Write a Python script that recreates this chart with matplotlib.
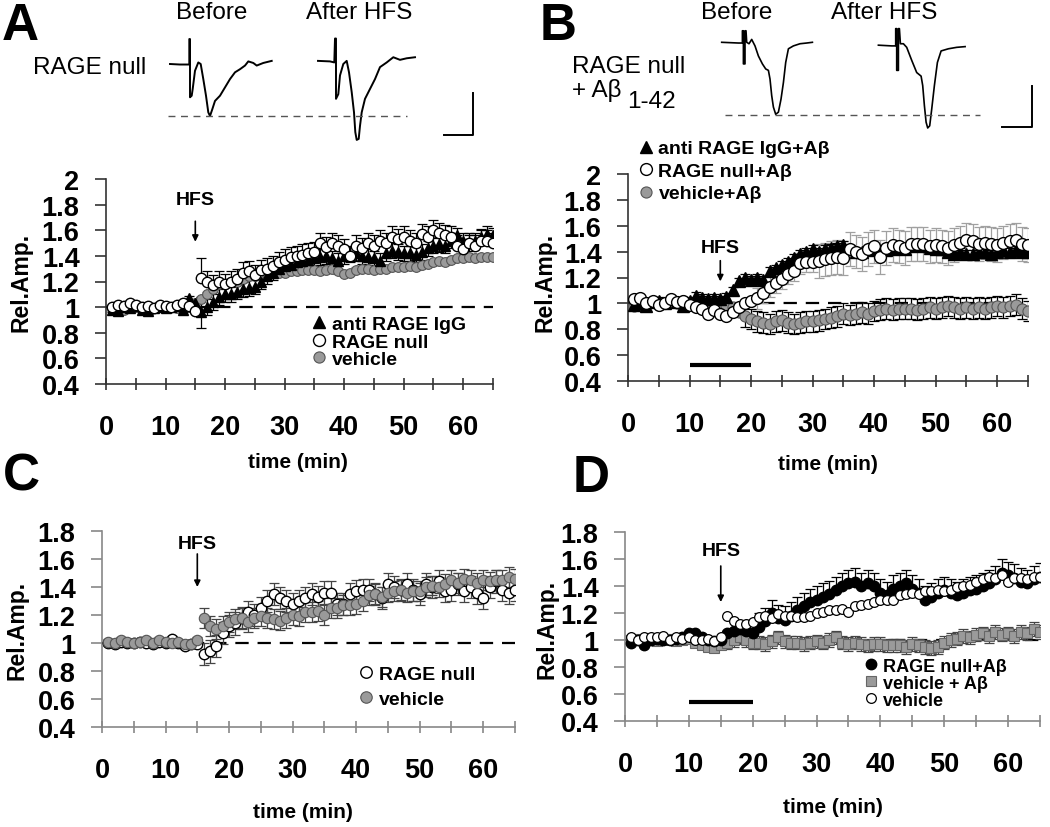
import numpy as np
import matplotlib
matplotlib.use('Agg')
import matplotlib.pyplot as plt

plt.rcParams['font.family'] = ['Liberation Sans', 'DejaVu Sans']

# time points (min)
t = np.arange(1, 66)

# ---- panel A ----
a_igg = [0.98, 0.97, 1.00, 0.99, 1.01, 0.98, 0.97, 0.99, 1.00, 0.99,
         1.00, 1.01, 0.98, 1.07, 1.03, 0.96, 1.00, 1.04, 1.08, 1.10,
         1.10, 1.12, 1.14, 1.15, 1.16, 1.20, 1.24, 1.27, 1.30, 1.32,
         1.33, 1.35, 1.36, 1.37, 1.38, 1.39, 1.40, 1.38, 1.36, 1.40,
         1.41, 1.42, 1.40, 1.39, 1.38, 1.36, 1.42, 1.44, 1.43, 1.42,
         1.42, 1.41, 1.43, 1.46, 1.48, 1.49, 1.48, 1.52, 1.56, 1.52,
         1.50, 1.52, 1.55, 1.57, 1.56]
a_igg_err = [0.02] * 15 + [0.12] + [0.06] * 49
a_null = [1.00, 1.02, 1.01, 1.03, 1.02, 1.00, 1.01, 0.99, 1.02, 1.01,
          1.00, 1.02, 1.03, 1.01, 0.97, 1.23, 1.20, 1.17, 1.20, 1.18,
          1.20, 1.22, 1.27, 1.28, 1.25, 1.29, 1.30, 1.32, 1.35, 1.37,
          1.39, 1.40, 1.41, 1.42, 1.43, 1.50, 1.47, 1.50, 1.48, 1.45,
          1.40, 1.48, 1.46, 1.50, 1.48, 1.52, 1.50, 1.55, 1.53, 1.55,
          1.52, 1.50, 1.57, 1.55, 1.60, 1.58, 1.56, 1.55, 1.48, 1.45,
          1.50, 1.48, 1.52, 1.52, 1.50]
a_null_err = [0.02] * 15 + [0.15] + [0.08] * 49
a_veh = [0.99, 1.00, 0.98, 1.01, 1.00, 0.99, 0.98, 0.99, 1.00, 1.01,
         1.00, 0.99, 1.01, 1.00, 1.03, 1.06, 1.10, 1.14, 1.18, 1.18,
         1.20, 1.20, 1.22, 1.24, 1.24, 1.25, 1.26, 1.27, 1.27, 1.27,
         1.28, 1.28, 1.29, 1.29, 1.29, 1.28, 1.29, 1.30, 1.28, 1.26,
         1.27, 1.29, 1.30, 1.30, 1.29, 1.30, 1.30, 1.31, 1.31, 1.31,
         1.32, 1.31, 1.33, 1.34, 1.35, 1.36, 1.35, 1.37, 1.38, 1.38,
         1.39, 1.38, 1.39, 1.39, 1.39]
a_veh_err = [0.02] * 65

# ---- panel B ----
b_igg = [0.99, 1.00, 0.98, 1.01, 1.02, 1.00, 1.03, 1.01, 0.98, 1.02,
         1.06, 1.04, 1.03, 1.04, 1.03, 1.05, 1.10, 1.17, 1.20, 1.18,
         1.20, 1.18, 1.25, 1.27, 1.30, 1.32, 1.35, 1.38, 1.40, 1.42,
         1.40, 1.42, 1.43, 1.44, 1.45, 1.42, 1.40, 1.40, 1.41, 1.42,
         1.40, 1.41, 1.42, 1.43, 1.42, 1.44, 1.45, 1.44, 1.43, 1.42,
         1.42, 1.40, 1.38, 1.40, 1.38, 1.38, 1.40, 1.40, 1.38, 1.40,
         1.41, 1.40, 1.41, 1.40, 1.40]
b_igg_err = [0.03] * 65
b_null = [1.03, 1.04, 1.00, 1.02, 0.99, 1.00, 1.03, 1.01, 1.02, 0.99,
          0.97, 0.96, 0.92, 0.95, 0.92, 0.90, 0.93, 0.97, 1.00, 1.02,
          1.04, 1.08, 1.13, 1.16, 1.19, 1.23, 1.25, 1.31, 1.32, 1.32,
          1.33, 1.34, 1.35, 1.36, 1.35, 1.42, 1.40, 1.38, 1.42, 1.44,
          1.36, 1.43, 1.45, 1.44, 1.43, 1.46, 1.46, 1.46, 1.44, 1.45,
          1.44, 1.43, 1.45, 1.47, 1.49, 1.48, 1.46, 1.47, 1.46, 1.45,
          1.47, 1.48, 1.49, 1.46, 1.45]
b_null_err = [0.02] * 20 + [0.08] * 10 + [0.13] * 35
b_veh = [0.98, 0.99, 1.00, 1.01, 0.99, 1.00, 1.01, 1.00, 1.02, 1.00,
         0.98, 0.97, 0.96, 0.97, 0.98, 0.99, 0.97, 0.93, 0.90, 0.88,
         0.86, 0.85, 0.84, 0.86, 0.87, 0.85, 0.84, 0.85, 0.86, 0.86,
         0.87, 0.88, 0.89, 0.90, 0.92, 0.91, 0.92, 0.93, 0.92, 0.94,
         0.95, 0.96, 0.95, 0.96, 0.96, 0.96, 0.95, 0.96, 0.97, 0.96,
         0.97, 0.98, 0.97, 0.96, 0.97, 0.96, 0.97, 0.96, 0.97, 0.98,
         0.97, 0.98, 0.99, 0.96, 0.94]
b_veh_err = [0.02] * 18 + [0.08] * 47

# ---- panel C ----
c_null = [1.00, 0.99, 1.01, 1.00, 1.00, 1.01, 1.00, 0.99, 1.01, 1.00,
          1.03, 1.00, 0.98, 0.99, 0.99, 0.92, 0.94, 0.98, 1.07, 1.12,
          1.14, 1.18, 1.22, 1.20, 1.25, 1.30, 1.35, 1.32, 1.30, 1.28,
          1.30, 1.32, 1.35, 1.33, 1.36, 1.36, 1.28, 1.28, 1.35, 1.37,
          1.38, 1.38, 1.35, 1.32, 1.42, 1.40, 1.38, 1.42, 1.38, 1.35,
          1.42, 1.40, 1.44, 1.37, 1.38, 1.42, 1.37, 1.40, 1.36, 1.32,
          1.40, 1.44, 1.38, 1.36, 1.38]
c_null_err = [0.02] * 15 + [0.08] * 50
c_veh = [1.01, 1.00, 1.02, 1.01, 1.00, 1.01, 1.02, 1.00, 1.02, 1.01,
         1.00, 1.01, 0.99, 0.99, 1.02, 1.18, 1.12, 1.10, 1.12, 1.15,
         1.17, 1.18, 1.15, 1.18, 1.19, 1.18, 1.17, 1.16, 1.18, 1.20,
         1.19, 1.22, 1.22, 1.23, 1.20, 1.25, 1.25, 1.27, 1.27, 1.28,
         1.30, 1.34, 1.35, 1.33, 1.36, 1.37, 1.38, 1.36, 1.37, 1.37,
         1.40, 1.41, 1.40, 1.42, 1.45, 1.43, 1.46, 1.45, 1.43, 1.45,
         1.44, 1.45, 1.45, 1.47, 1.46]
c_veh_err = [0.02] * 15 + [0.07] * 50

# ---- panel D ----
d_null = [0.98, 1.00, 0.96, 1.00, 1.01, 1.00, 1.00, 1.01, 1.02, 1.05,
          1.05, 1.02, 1.00, 0.99, 1.00, 1.05, 1.07, 1.08, 1.07, 1.05,
          1.10, 1.14, 1.20, 1.16, 1.15, 1.18, 1.22, 1.25, 1.28, 1.30,
          1.32, 1.34, 1.37, 1.40, 1.42, 1.43, 1.40, 1.42, 1.40, 1.35,
          1.33, 1.38, 1.40, 1.42, 1.38, 1.35, 1.30, 1.32, 1.35, 1.37,
          1.35, 1.33, 1.35, 1.37, 1.38, 1.40, 1.42, 1.45, 1.50, 1.48,
          1.46, 1.43, 1.42, 1.45, 1.47]
d_null_err = [0.02] * 20 + [0.10] * 45
d_vab = [1.00, 1.01, 1.00, 1.00, 0.99, 1.00, 1.01, 0.99, 1.00, 1.01,
         0.98, 0.96, 0.95, 0.94, 0.96, 0.98, 1.00, 1.02, 1.00, 0.98,
         0.98, 0.97, 0.99, 1.02, 0.99, 0.98, 0.98, 0.97, 0.98, 0.99,
         0.98, 1.00, 1.02, 0.98, 0.97, 0.98, 0.97, 0.96, 0.97, 0.97,
         0.96, 0.96, 0.96, 0.95, 0.97, 0.96, 0.95, 0.94, 0.95, 0.98,
         1.00, 1.01, 1.03, 1.02, 1.04, 1.05, 1.03, 1.06, 1.04, 1.05,
         1.03, 1.06, 1.05, 1.08, 1.06]
d_vab_err = [0.02] * 15 + [0.05] * 50
d_veh = [1.02, 1.00, 1.02, 1.02, 1.02, 1.03, 1.00, 1.02, 1.01, 1.02,
         1.00, 1.00, 1.01, 0.99, 1.02, 1.18, 1.14, 1.12, 1.12, 1.13,
         1.17, 1.18, 1.16, 1.19, 1.18, 1.18, 1.17, 1.17, 1.18, 1.20,
         1.21, 1.22, 1.22, 1.23, 1.21, 1.25, 1.26, 1.27, 1.28, 1.30,
         1.30, 1.30, 1.33, 1.34, 1.35, 1.34, 1.36, 1.36, 1.37, 1.36,
         1.37, 1.39, 1.40, 1.41, 1.43, 1.45, 1.47, 1.46, 1.48, 1.43,
         1.46, 1.46, 1.45, 1.47, 1.47]

# drug application bar (min)
bar_t = [10, 20]

# ---- field potential traces (t in ms-ish units, amplitude rel. to "before" peak) ----
a_before_t = [0, 1.0, 1.67, 1.93, 1.93, 2.0, 2.0, 2.17, 2.27, 2.5, 2.83, 3.07, 3.33, 3.6, 3.83,
              4.0, 4.23, 4.5, 5.0, 5.5, 6.0, 6.5, 7.0, 7.5, 7.83, 8.33, 8.67, 9.33, 10.17]
a_before_v = [0, -0.01, -0.01, -0.01, 0.48, 0.48, -0.64, -0.61, -0.48, -0.13, 0.03, 0, -0.29, -0.61, -0.93,
              -1.0, -0.87, -0.71, -0.61, -0.45, -0.29, -0.16, -0.1, -0.03, 0.05, 0.02, -0.03, 0.02, 0.06]
a_after_t = [0, 1.2, 1.63, 1.7, 1.8, 1.8, 2.03, 2.2, 2.53, 2.87, 3.1, 3.37, 3.6, 3.73, 3.87, 4.07,
             4.2, 4.37, 4.7, 5.2, 5.7, 6.2, 6.87, 7.53, 8.2, 8.87, 9.7]
a_after_v = [0.06, 0.05, 0.03, 0.49, 0.49, -0.67, -0.58, -0.22, 0, 0.06, -0.16, -0.54, -0.93, -1.31, -1.46, -1.44,
             -1.19, -0.93, -0.67, -0.48, -0.29, -0.06, 0.03, 0.13, 0.08, 0.11, 0.13]
b_before_t = [0, 1.67, 2.07, 2.07, 2.17, 2.17, 2.33, 2.33, 2.43, 2.5, 2.73, 3.0, 3.33, 3.67, 4.07, 4.4,
              4.67, 4.83, 5.0, 5.17, 5.4, 5.67, 5.93, 6.17, 6.4, 6.67, 7.17, 7.83, 8.5, 9.07]
b_before_v = [0, -0.01, -0.01, 0.16, 0.16, -0.30, -0.30, 0.16, 0.16, 0, -0.02, 0.04, -0.05, -0.19, -0.30, -0.37,
              -0.39, -0.51, -0.74, -0.90, -1.0, -0.97, -0.79, -0.56, -0.28, -0.09, -0.05, -0.02, -0.01, 0]
b_after_t = [0, 1.33, 1.73, 1.73, 1.83, 1.83, 2.0, 2.0, 2.1, 2.2, 2.5, 2.83, 3.33, 3.83, 4.27, 4.43,
             4.6, 4.77, 4.93, 5.13, 5.33, 5.6, 5.9, 6.27, 7.0, 7.83, 8.67]
b_after_v = [-0.04, -0.05, -0.05, 0.19, 0.19, -0.39, -0.39, 0.19, 0.19, -0.02, -0.02, -0.07, -0.25, -0.42, -0.47, -0.60,
             -0.88, -1.11, -1.19, -1.16, -0.93, -0.60, -0.28, -0.12, -0.09, -0.07, -0.06]

GRAY = '#9a9a9a'
fig = plt.figure(figsize=(10.5, 8.28), dpi=100)


def px_rect(x0, y0, x1, y1):
    W, H = 1050, 828
    return [x0 / W, 1 - y1 / H, (x1 - x0) / W, (y1 - y0) / H]


def setup(ax, ylo, yhi, xlab, ylab, spcol):
    ax.set_xlim(0, 65)
    ax.set_ylim(ylo, yhi)
    for s in ['top', 'right']:
        ax.spines[s].set_visible(False)
    for s in ['left', 'bottom']:
        ax.spines[s].set_color(spcol)
        ax.spines[s].set_linewidth(1.2)
    ax.set_xticks(range(0, 61, 10))
    ax.set_xticks(range(5, 66, 10), minor=True)
    ax.tick_params(axis='x', which='both', direction='inout', length=9, width=1.2,
                   color=spcol, pad=17, labelsize=19.5)
    yt = np.round(np.arange(ylo, yhi + 0.001, 0.2), 1)
    ax.set_yticks(yt)
    ax.set_yticklabels(['%g' % v for v in yt])
    ax.tick_params(axis='y', direction='out', length=8, width=1.2, color=spcol, pad=11, labelsize=19.5)
    for lab in ax.get_xticklabels() + ax.get_yticklabels():
        lab.set_fontweight('bold')
    ax.axhline(1, ls=(0, (6, 4)), color='k', lw=1.6, zorder=1)
    ax.set_xlabel('time (min)', fontsize=15, fontweight='bold')
    ax.xaxis.set_label_coords(*xlab)
    ax.set_ylabel('Rel.Amp.', fontsize=16.5, fontweight='bold')
    ax.yaxis.set_label_coords(*ylab)


def hfs(ax, ytxt, y0, y1):
    ax.text(15, ytxt, 'HFS', ha='center', va='center', fontsize=14, fontweight='bold')
    ax.annotate('', xy=(15, y1), xytext=(15, y0),
                arrowprops=dict(arrowstyle='-|>', color='k', lw=1.2, mutation_scale=9, shrinkA=0, shrinkB=0))


def errs(ax, y, e, col, mode='both'):
    e = np.array(e)
    lo = e if mode in ('both', 'down') else np.zeros_like(e)
    hi = e if mode in ('both', 'up') else np.zeros_like(e)
    ax.errorbar(t, y, yerr=[lo, hi], fmt='none', ecolor=col, elinewidth=0.9, capsize=3.5, capthick=0.9, zorder=2)


leg_kw = dict(loc='upper left', frameon=False, handlelength=0.6, handletextpad=0.35,
              borderpad=0, borderaxespad=0)
leg_font = {'weight': 'bold', 'size': 14}

# ---------- A ----------
axA = fig.add_axes(px_rect(106, 180, 493, 385))
setup(axA, 0.4, 2.0, (0.496, -0.33), (-0.189, 0.5), '#333333')
errs(axA, a_veh, a_veh_err, '#777777')
errs(axA, a_igg, a_igg_err, 'k')
errs(axA, a_null, a_null_err, 'k', 'up')
axA.plot(t, a_veh, ls='none', marker='o', ms=7, mfc=GRAY, mec='#555555', mew=0.8, zorder=3, label='vehicle')
axA.plot(t, a_igg, ls='none', marker='^', ms=7.5, mfc='k', mec='k', zorder=4, label='anti RAGE IgG')
axA.plot(t, a_null, ls='none', marker='o', ms=7.5, mfc='white', mec='k', mew=1, zorder=5, label='RAGE null')
h, l = axA.get_legend_handles_labels()
axA.legend([h[1], h[2], h[0]], [l[1], l[2], l[0]], bbox_to_anchor=(0.535, 0.335), labelspacing=0.0,
           markerscale=1.15, prop=leg_font, **leg_kw)
hfs(axA, 1.84, 1.67, 1.51)

# ---------- B ----------
axB = fig.add_axes(px_rect(628, 175, 1028, 382))
setup(axB, 0.4, 2.0, (0.5, -0.353), (-0.178, 0.48), '#333333')
errs(axB, b_null, b_null_err, '#a0a0a0')
errs(axB, b_veh, b_veh_err, 'k')
errs(axB, b_igg, b_igg_err, 'k')
axB.plot(t, b_veh, ls='none', marker='o', ms=8, mfc=GRAY, mec='#555555', mew=0.8, zorder=3, label='vehicle+Aβ')
axB.plot(t, b_igg, ls='none', marker='^', ms=8, mfc='k', mec='k', zorder=4, label='anti RAGE IgG+Aβ')
axB.plot(t, b_null, ls='none', marker='o', ms=8.5, mfc='white', mec='k', mew=1, zorder=5, label='RAGE null+Aβ')
h, l = axB.get_legend_handles_labels()
lg = axB.legend([h[1], h[2], h[0]], [l[1], l[2], l[0]], bbox_to_anchor=(0.03, 1.165), labelspacing=0.25,
                markerscale=1.0, prop=leg_font, **leg_kw)
lg.set_clip_on(False)
hfs(axB, 1.43, 1.33, 1.17)
axB.plot(bar_t, [0.52, 0.52], color='k', lw=3, solid_capstyle='butt')

# ---------- C ----------
axC = fig.add_axes(px_rect(102, 532, 515, 728))
setup(axC, 0.4, 1.8, (0.487, -0.383), (-0.179, 0.5), '#888888')
errs(axC, c_null, c_null_err, '#444444')
errs(axC, c_veh, c_veh_err, '#444444')
axC.plot(t, c_null, ls='none', marker='o', ms=7.5, mfc='white', mec='k', mew=1, zorder=3, label='RAGE null')
axC.plot(t, c_veh, ls='none', marker='o', ms=7.5, mfc=GRAY, mec='#555555', mew=0.8, zorder=4, label='vehicle')
axC.legend(bbox_to_anchor=(0.625, 0.315), labelspacing=0.4, markerscale=1.1, prop=leg_font, **leg_kw)
hfs(axC, 1.714, 1.636, 1.40)

# ---------- D ----------
axD = fig.add_axes(px_rect(625, 533, 1040, 722))
setup(axD, 0.4, 1.8, (0.5, -0.402), (-0.161, 0.49), '#888888')
errs(axD, d_null, d_null_err, 'k', 'up')
errs(axD, d_vab, d_vab_err, '#444444', 'both')
axD.plot(t, d_vab, ls='none', marker='s', ms=7, mfc=GRAY, mec='#666666', mew=0.8, zorder=3, label='vehicle + Aβ')
axD.plot(t, d_null, ls='none', marker='o', ms=7.5, mfc='k', mec='k', zorder=4, label='RAGE null+Aβ')
axD.plot(t, d_veh, ls='none', marker='o', ms=7, mfc='white', mec='k', mew=0.9, zorder=5, label='vehicle')
h, l = axD.get_legend_handles_labels()
axD.legend([h[1], h[0], h[2]], [l[1], l[0], l[2]], bbox_to_anchor=(0.58, 0.335), labelspacing=0.0,
           markerscale=1.0, prop={'weight': 'bold', 'size': 13}, **leg_kw)
hfs(axD, 1.66, 1.548, 1.281)
axD.plot(bar_t, [0.54, 0.54], color='k', lw=3, solid_capstyle='butt')

# ---------- traces ----------
trA = fig.add_axes(px_rect(150, 20, 490, 160))
trA.set_xlim(-2, 32)
trA.set_ylim((65 - 160) / 52, (65 - 20) / 52)
trA.axis('off')
trA.plot(a_before_t, a_before_v, color='k', lw=1.4)
trA.plot(np.array(a_after_t) + 14.8, a_after_v, color='k', lw=1.4)
trA.plot([-0.2, 23.7], [-1, -1], color='#555555', lw=1, ls=(0, (5, 4)))
trA.plot([30.3, 30.3, 27.4], [-0.56, -1.37, -1.37], color='k', lw=1.4)

trB = fig.add_axes(px_rect(700, 20, 1050, 150))
trB.set_xlim(-2.17, 32.83)
trB.set_ylim((43.3 - 150) / 72, (43.3 - 20) / 72)
trB.axis('off')
trB.plot(b_before_t, b_before_v, color='k', lw=1.2)
trB.plot(np.array(b_after_t) + 15.67, b_after_v, color='k', lw=1.2)
trB.plot([0.33, 25.83], [-1.01, -1.01], color='#555555', lw=1, ls=(0, (5, 4)))
trB.plot([31.0, 31.0, 28.0], [-0.6, -1.18, -1.18], color='k', lw=1.4)

# ---------- texts ----------
W, H = 1050, 828
def ftext(x, y, s, **kw):
    fig.text(x / W, 1 - y / H, s, **kw)

ftext(212, 13, 'Before', ha='center', va='center', fontsize=17.5)
ftext(359, 13, 'After HFS', ha='center', va='center', fontsize=17.5)
ftext(33, 68, 'RAGE null', ha='left', va='center', fontsize=17.5)
ftext(737, 13, 'Before', ha='center', va='center', fontsize=17.5)
ftext(884, 13, 'After HFS', ha='center', va='center', fontsize=17.5)
ftext(572, 67, 'RAGE null', ha='left', va='center', fontsize=17.5)
ftext(572, 97, '+ Aβ', ha='left', va='baseline', fontsize=17.5)
ftext(627, 108, '1-42', ha='left', va='baseline', fontsize=17.5)

ftext(2, 2, 'A', ha='left', va='top', fontsize=37, fontweight='bold')
ftext(540, 2, 'B', ha='left', va='top', fontsize=37, fontweight='bold')
ftext(3, 453, 'C', ha='left', va='top', fontsize=37, fontweight='bold')
ftext(573, 454, 'D', ha='left', va='top', fontsize=37, fontweight='bold')

fig.savefig('out.png', dpi=100)
